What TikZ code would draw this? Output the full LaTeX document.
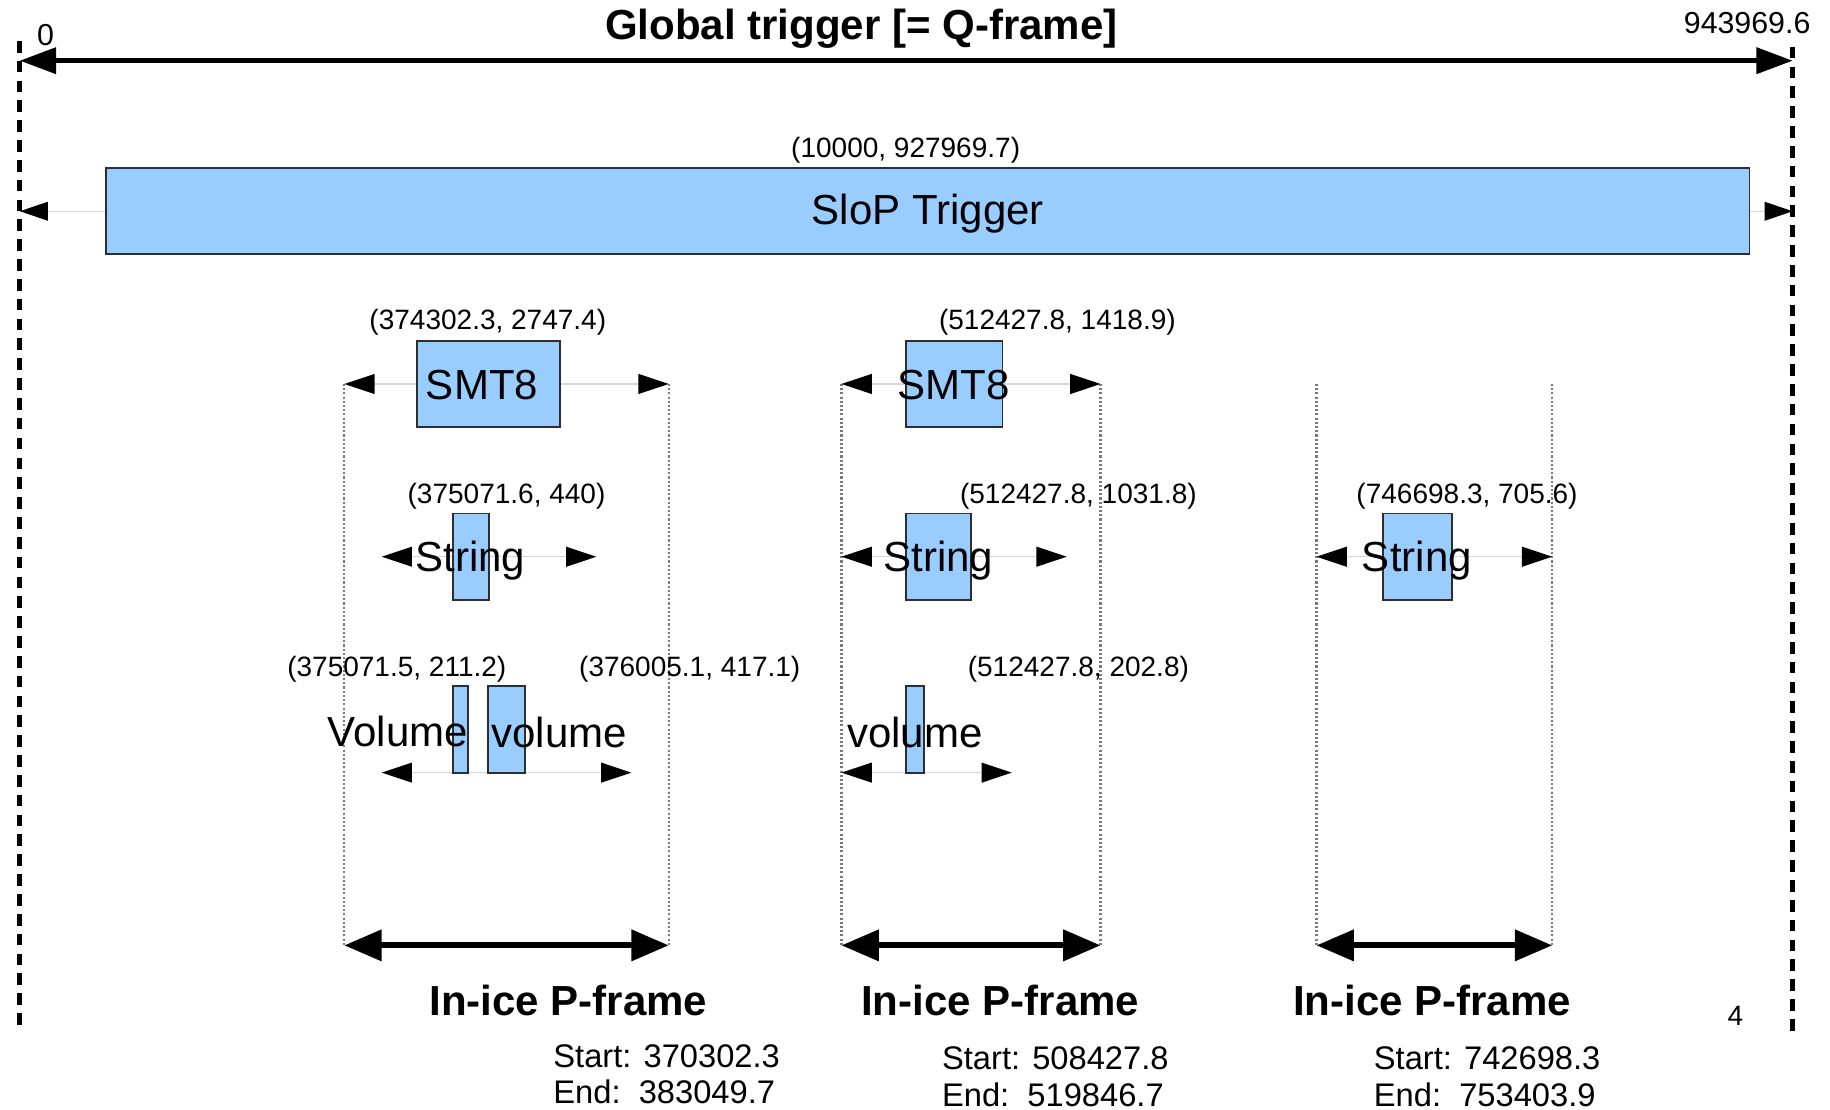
\documentclass[tikz,border=0pt]{standalone}
\usepackage{fontspec}
\setmainfont{Liberation Sans}
\usepackage{xcolor}
\usepackage{tikz}
\usetikzlibrary{positioning, arrows.meta}
\definecolor{hitblue}{HTML}{99CCFF}
\definecolor{edgegray}{HTML}{2E2E2E}
\definecolor{wiregray}{HTML}{D6D6D6}
\definecolor{dotgray}{HTML}{7A7A7A}

\tikzset{
  hitbox/.style={draw=edgegray, fill=hitblue, line width=1.6pt, inner sep=0pt},
  bigtxt/.style={font=\fontsize{36}{40}\selectfont, inner sep=0pt},
  valtxt/.style={font=\fontsize{24}{28}\selectfont, inner sep=0pt},
  endtxt/.style={font=\fontsize{26}{30}\selectfont, inner sep=0pt},
  frametxt/.style={font=\fontsize{36}{40}\selectfont\bfseries, inner sep=0pt},
  infotxt/.style={font=\fontsize{28}{31}\selectfont, inner sep=0pt, align=left, anchor=north west},
  limitline/.style={line width=4.5pt, dash pattern=on 10pt off 7pt},
  guideline/.style={draw=dotgray, line width=2pt, dash pattern=on 1.8pt off 1.8pt},
  qframe/.style={line width=4pt, {Triangle[length=31pt,width=22pt]}-{Triangle[length=31pt,width=22pt]}},
  pframe/.style={line width=5pt, {Triangle[length=32pt,width=26pt]}-{Triangle[length=32pt,width=26pt]}},
  window/.style={draw=wiregray, line width=1.2pt,
    {Triangle[length=26pt,width=17pt,color=black]}-{Triangle[length=26pt,width=17pt,color=black]}},
  wing/.style={draw=wiregray, line width=1.2pt, -{Triangle[length=24pt,width=16pt,color=black]}}
}

\begin{document}
\begin{tikzpicture}[x=1pt, y=-1pt]
  \useasboundingbox (0,0) rectangle (1568,951);

  % global trigger
  \coordinate (gLt) at (17,35);
  \coordinate (gLb) at (17,885);
  \coordinate (gRt) at (1536,40);
  \coordinate (gRb) at (1536,885);
  \coordinate (gL) at (17,52);
  \coordinate (gR) at (1536,52);
  \draw[limitline] (gLt) -- (gLb);
  \draw[limitline] (gRt) -- (gRb);
  \draw[qframe] (gL) -- (gR);
  \node[frametxt] (qtitle) at (738,25) {Global trigger [= Q-frame]};
  \node[endtxt] (qstart) at (39,30) {0};
  \node[endtxt] (qend) at (1497,20) {943969.6};

  % slop trigger
  \coordinate (sL) at (17,181);
  \coordinate (sR) at (1536,181);
  \node[hitbox, minimum width=1408pt, minimum height=74pt] (slop) at (795,181) {};
  \draw[wing] (slop.west) -- (sL);
  \draw[wing] (slop.east) -- (sR);
  \node[bigtxt] (sloptxt) at (795,183) {SloP Trigger};
  \node[valtxt] (slopval) at (776,129) {(10000, 927969.7)};

  % frame limits
  \coordinate (f1lt) at (295,329);
  \coordinate (f1rt) at (573,329);
  \coordinate (f1l) at (295,810);
  \coordinate (f1r) at (573,810);
  \coordinate (f2lt) at (721,329);
  \coordinate (f2rt) at (943,329);
  \coordinate (f2l) at (721,810);
  \coordinate (f2r) at (943,810);
  \coordinate (f3lt) at (1128,329);
  \coordinate (f3rt) at (1330,329);
  \coordinate (f3l) at (1128,810);
  \coordinate (f3r) at (1330,810);
  \draw[guideline] (f1lt) -- (f1l);
  \draw[guideline] (f1rt) -- (f1r);
  \draw[guideline] (f2lt) -- (f2l);
  \draw[guideline] (f2rt) -- (f2r);
  \draw[guideline] (f3lt) -- (f3l);
  \draw[guideline] (f3rt) -- (f3r);

  % trigger windows
  \coordinate (s1l) at (327,477);
  \coordinate (s1r) at (511,477);
  \coordinate (v1l) at (327,662);
  \coordinate (v1r) at (541,662);
  \coordinate (s2l) at (721,477);
  \coordinate (s2r) at (914,477);
  \coordinate (v2l) at (721,662);
  \coordinate (v2r) at (867,662);
  \coordinate (s3l) at (1128,477);
  \coordinate (s3r) at (1330,477);
  \draw[window] (f1lt) -- (f1rt);
  \draw[window] (s1l) -- (s1r);
  \draw[window] (v1l) -- (v1r);
  \draw[window] (f2lt) -- (f2rt);
  \draw[window] (s2l) -- (s2r);
  \draw[window] (v2l) -- (v2r);
  \draw[window] (s3l) -- (s3r);

  % first p-frame
  \node[hitbox, minimum width=123pt, minimum height=74pt] (smtA) at (418.5,329) {};
  \node[hitbox, minimum width=31pt, minimum height=74pt] (strA) at (403.5,477) {};
  \node[hitbox, minimum width=13pt, minimum height=74pt] (volA) at (394.5,625) {};
  \node[hitbox, minimum width=32pt, minimum height=74pt] (volB) at (434,625) {};
  \node[bigtxt] (smtAtxt) at (413,330) {SMT8};
  \node[bigtxt] (strAtxt) at (403,480) {String};
  \node[bigtxt] (volAtxt) at (341,627) {Volume};
  \node[bigtxt] (volBtxt) at (479,628) {volume};
  \node[valtxt] (smtAval) at (418,276) {(374302.3, 2747.4)};
  \node[valtxt] (strAval) at (434,425) {(375071.6, 440)};
  \node[valtxt] (volAval) at (340,573) {(375071.5, 211.2)};
  \node[valtxt] (volBval) at (591,573) {(376005.1, 417.1)};

  % second p-frame
  \node[hitbox, minimum width=83pt, minimum height=74pt] (smtC) at (817.5,329) {};
  \node[hitbox, minimum width=56pt, minimum height=74pt] (strC) at (804,477) {};
  \node[hitbox, minimum width=16pt, minimum height=74pt] (volC) at (784,625) {};
  \node[bigtxt] (smtCtxt) at (817,330) {SMT8};
  \node[bigtxt] (strCtxt) at (804,480) {String};
  \node[bigtxt] (volCtxt) at (784,628) {volume};
  \node[valtxt] (smtCval) at (906,276) {(512427.8, 1418.9)};
  \node[valtxt] (strCval) at (924,425) {(512427.8, 1031.8)};
  \node[valtxt] (volCval) at (924,573) {(512427.8, 202.8)};

  % third p-frame
  \node[hitbox, minimum width=59pt, minimum height=74pt] (strD) at (1214.5,477) {};
  \node[bigtxt] (strDtxt) at (1214,480) {String};
  \node[valtxt] (strDval) at (1257,425) {(746698.3, 705.6)};

  % p-frame spans
  \draw[pframe] (f1l) -- (f1r);
  \draw[pframe] (f2l) -- (f2r);
  \draw[pframe] (f3l) -- (f3r);
  \node[frametxt] (pf1) at (487,857) {In-ice P-frame};
  \node[frametxt] (pf2) at (857,857) {In-ice P-frame};
  \node[frametxt] (pf3) at (1227,857) {In-ice P-frame};
  \node[infotxt] (pf1info) at (474,895) {Start: 370302.3\\End:\ \ 383049.7};
  \node[infotxt] (pf2info) at (807,897) {Start: 508427.8\\End:\ \ 519846.7};
  \node[infotxt] (pf3info) at (1177,897) {Start: 742698.3\\End:\ \ 753403.9};
  \node[valtxt] (pagenum) at (1487,870) {4};
\end{tikzpicture}
\end{document}
